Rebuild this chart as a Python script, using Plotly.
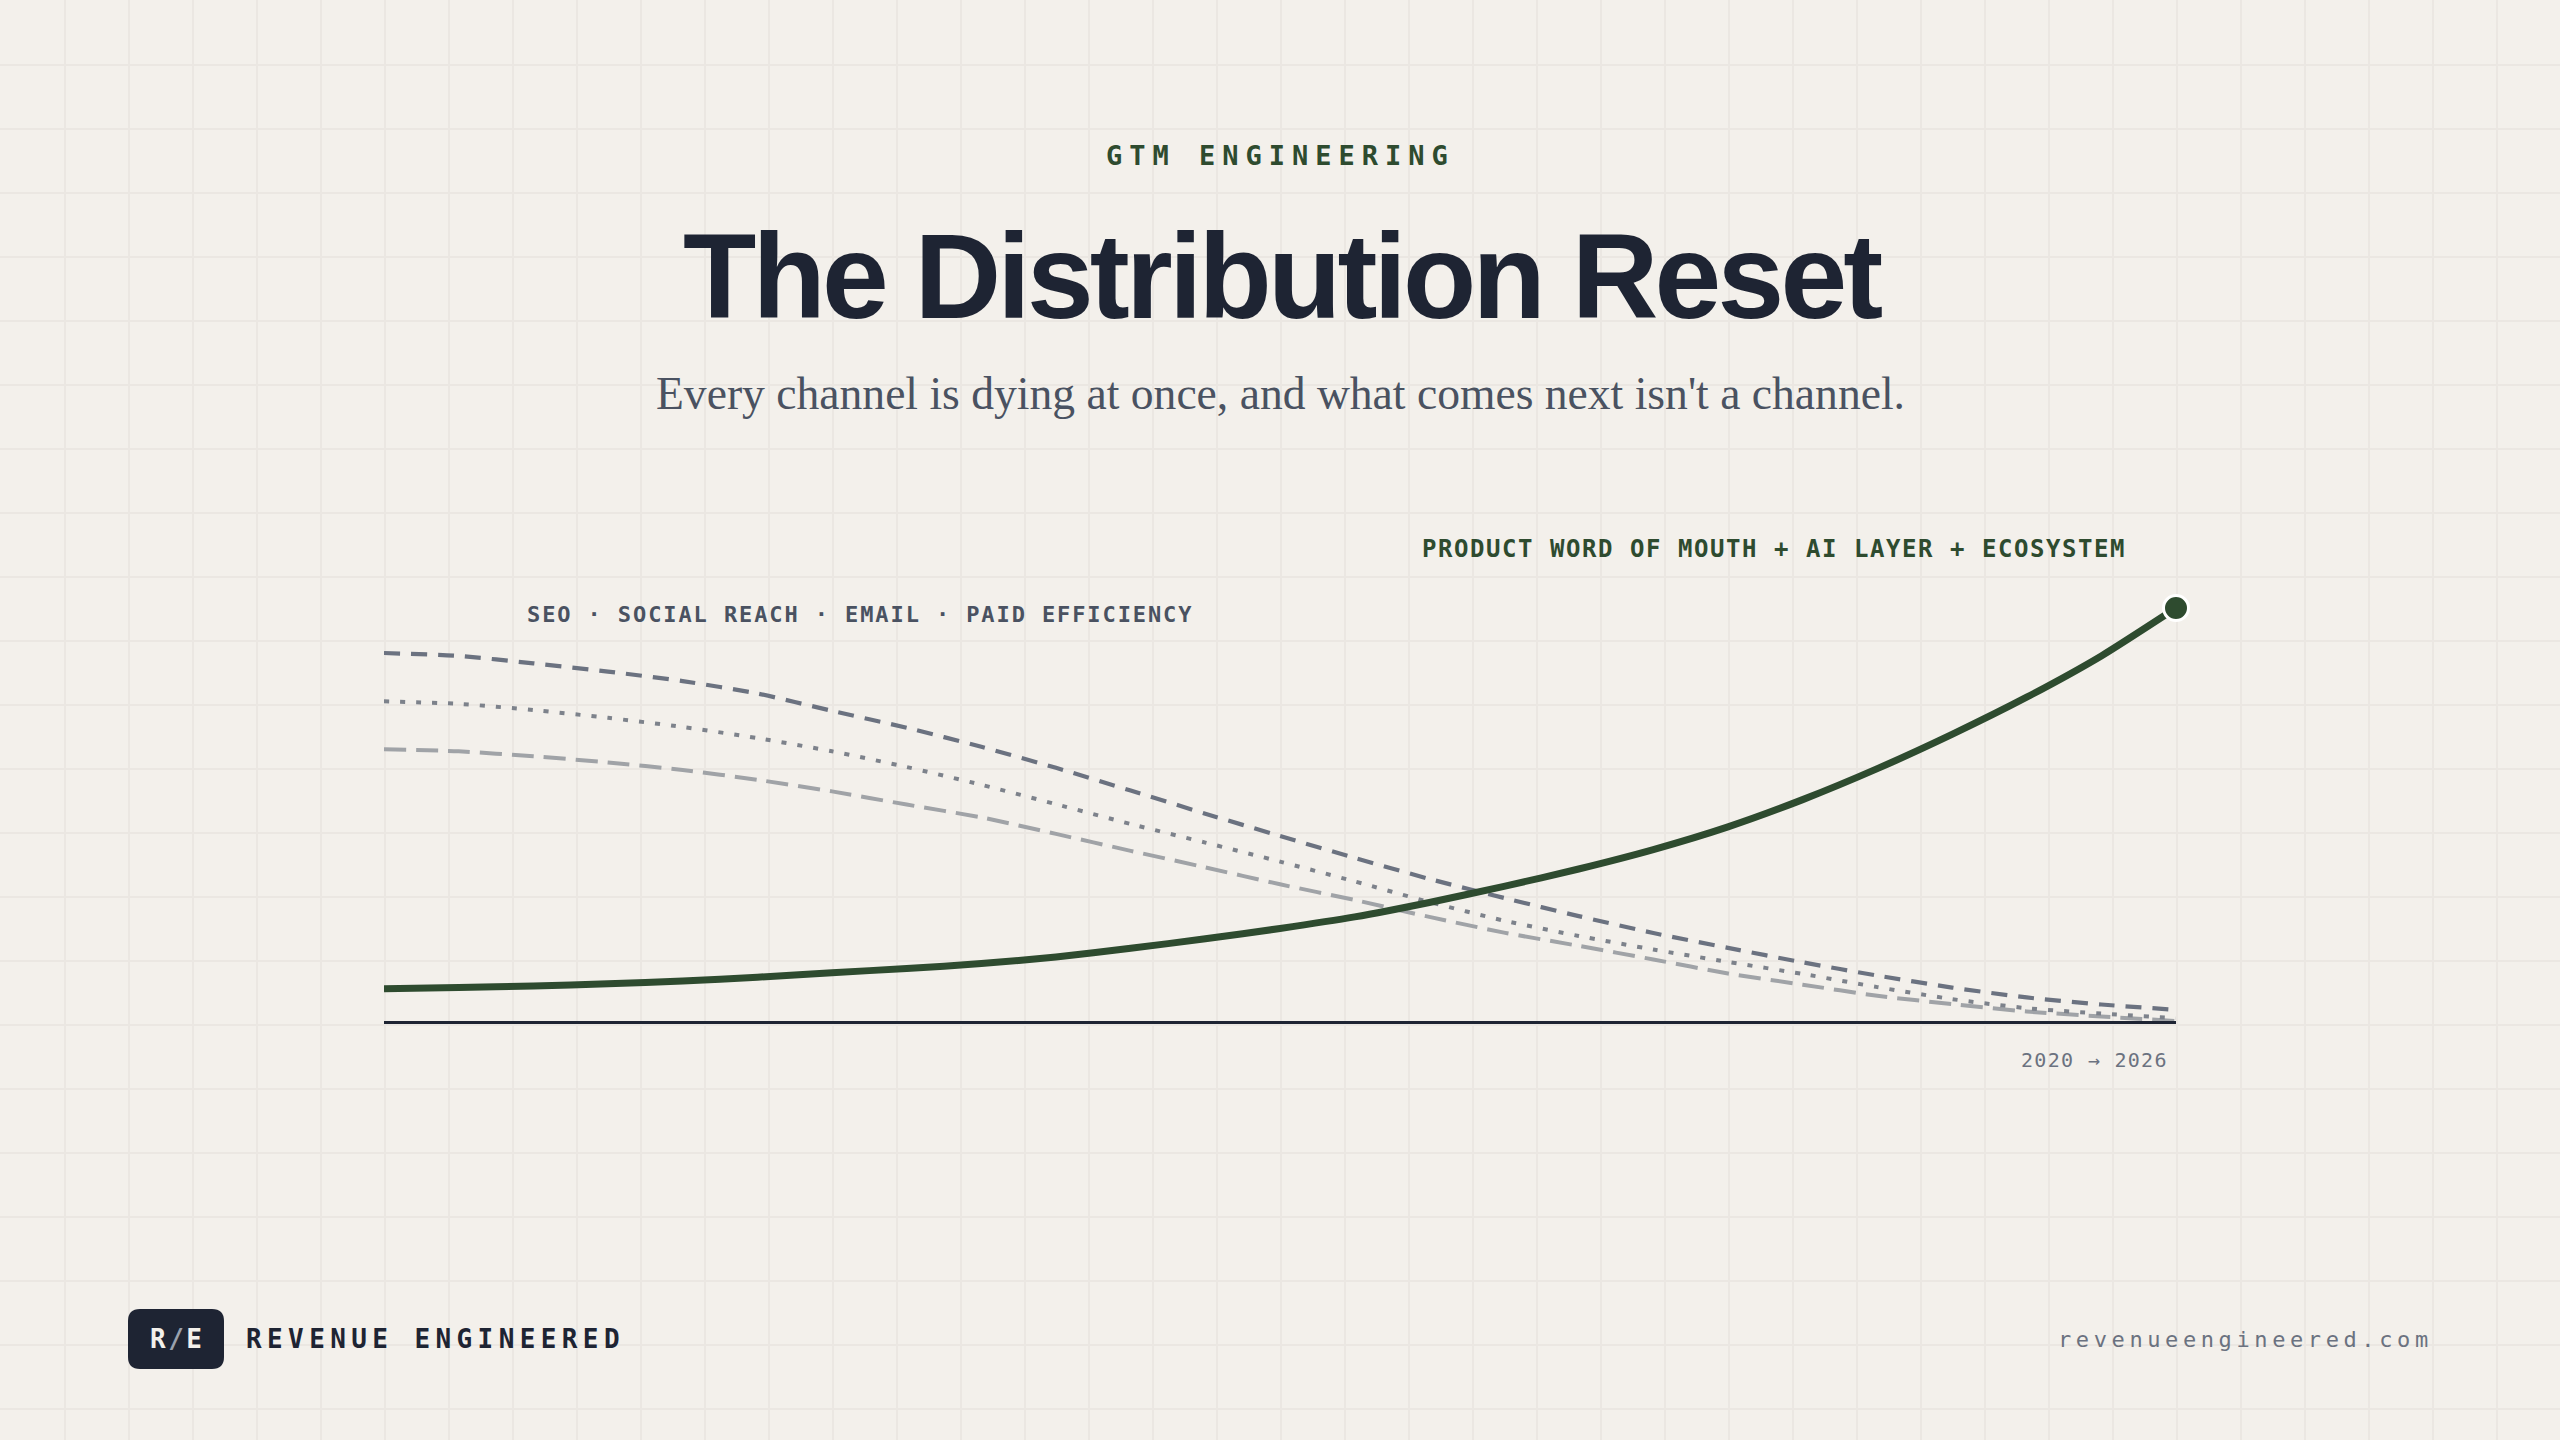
import plotly.graph_objects as go

W, H = 2560, 1440

# ---------------- data ----------------
years = [2020.0, 2020.25, 2020.5, 2020.75, 2021.0, 2021.25, 2021.5, 2021.75,
         2022.0, 2022.25, 2022.5, 2022.75, 2023.0, 2023.25, 2023.5, 2023.75,
         2024.0, 2024.25, 2024.5, 2024.75, 2025.0, 2025.25, 2025.5, 2025.75, 2026.0]

# rising: product word of mouth + AI layer + ecosystem (index, 2026 = 100)
new_distribution = [7.8, 8.1, 8.5, 9.0, 9.7, 10.6, 11.7, 12.7, 13.9, 15.5,
                    17.6, 19.9, 22.4, 25.2, 28.7, 32.6, 36.8, 41.5, 47.0, 53.6,
                    61.1, 69.4, 78.4, 88.4, 100.0]

# declining legacy channels
channel_dark = [89.1, 88.4, 86.6, 84.6, 82.3, 79.3, 75.1, 71.0, 66.4, 61.3,
                55.8, 50.2, 44.8, 39.5, 34.4, 29.8, 25.4, 21.3, 17.7, 14.2,
                11.0, 8.1, 5.7, 4.0, 2.7]
channel_dotted = [77.4, 76.8, 75.3, 73.4, 71.2, 68.5, 65.3, 61.5, 57.2, 52.5,
                  47.7, 43.2, 38.6, 33.8, 28.8, 24.3, 20.6, 17.3, 14.3, 11.4,
                  8.2, 5.3, 3.1, 1.8, 0.7]
channel_light = [65.8, 65.3, 64.1, 62.6, 60.8, 58.4, 55.6, 52.4, 49.3, 45.3,
                 41.2, 37.2, 33.1, 29.3, 25.2, 21.4, 18.2, 14.9, 11.5, 8.8,
                 6.1, 4.1, 2.3, 1.1, 0.0]

eyebrow = "GTM ENGINEERING"
title = "The Distribution Reset"
subtitle = "Every channel is dying at once, and what comes next isn't a channel."
label_rising = "PRODUCT WORD OF MOUTH + AI LAYER + ECOSYSTEM"
label_declining = "SEO · SOCIAL REACH · EMAIL · PAID EFFICIENCY"
range_label = "2020 → 2026"
brand = "REVENUE ENGINEERED"
url = "revenueengineered.com"

# ---------------- style ----------------
BG = "#f3f0eb"
GRID = "#ebe7e2"
NAVY = "#1e2433"
GREEN = "#2e4b2f"
SLATE = "#4a5261"
GRAY_DARK = "#6b7280"
GRAY_DOT = "#7d828b"
GRAY_LIGHT = "#a0a3a7"
MUTED = "#6b7280"
MONO = "DejaVu Sans Mono"

PLOT_L, PLOT_R, PLOT_T, PLOT_B = 384, 2176, 600, 1021
PX_PER_UNIT = 4.13

fig = go.Figure()

# holder trace for the background grid axes (pixel space)
fig.add_trace(go.Scatter(x=[None], y=[None], xaxis="x", yaxis="y",
                         showlegend=False, hoverinfo="skip"))

fig.add_trace(go.Scatter(x=years, y=channel_light, xaxis="x2", yaxis="y2", mode="lines",
                         line=dict(color=GRAY_LIGHT, width=4, dash="22px,10px", shape="spline", smoothing=0.6),
                         showlegend=False, hoverinfo="skip"))
fig.add_trace(go.Scatter(x=years, y=channel_dotted, xaxis="x2", yaxis="y2", mode="lines",
                         line=dict(color=GRAY_DOT, width=4, dash="5px,11px", shape="spline", smoothing=0.6),
                         showlegend=False, hoverinfo="skip"))
fig.add_trace(go.Scatter(x=years, y=channel_dark, xaxis="x2", yaxis="y2", mode="lines",
                         line=dict(color=GRAY_DARK, width=4.2, dash="16px,11px", shape="spline", smoothing=0.6),
                         showlegend=False, hoverinfo="skip"))
fig.add_trace(go.Scatter(x=years, y=new_distribution, xaxis="x2", yaxis="y2", mode="lines",
                         line=dict(color=GREEN, width=7, shape="spline", smoothing=0.6),
                         showlegend=False, hoverinfo="skip"))
fig.add_trace(go.Scatter(x=[years[-1]], y=[new_distribution[-1]], xaxis="x2", yaxis="y2", mode="markers",
                         marker=dict(color=GREEN, size=25, line=dict(color="#ffffff", width=3)),
                         cliponaxis=False, showlegend=False, hoverinfo="skip"))


def ls(text, spacing):
    return f'<span style="letter-spacing:{spacing}px">{text}</span>'


annotations = [
    dict(x=1280, y=155, text="<b>" + ls(eyebrow, 7) + "</b>", xanchor="center", yanchor="middle",
         font=dict(family=MONO, size=27, color=GREEN)),
    dict(x=1282, y=276, text="<b>" + ls(title, -3.8) + "</b>", xanchor="center", yanchor="middle",
         font=dict(family="Liberation Sans", size=120, color=NAVY)),
    dict(x=1280, y=393, text=subtitle, xanchor="center", yanchor="middle",
         font=dict(family="Liberation Serif", size=45.6, color=SLATE)),
    dict(x=1422, y=549, text="<b>" + ls(label_rising, 1.55) + "</b>", xanchor="left", yanchor="middle",
         font=dict(family=MONO, size=24, color=GREEN)),
    dict(x=527, y=614, text="<b>" + ls(label_declining, 1.9) + "</b>", xanchor="left", yanchor="middle",
         font=dict(family=MONO, size=22, color=SLATE)),
    dict(x=2168, y=1060, text=ls(range_label, 1.3), xanchor="right", yanchor="middle",
         font=dict(family=MONO, size=20, color=MUTED)),
    dict(x=177, y=1339, text='<b>' + ls('R<span style="color:#9aa1ad">/</span>E', 2.5) + '</b>',
         xanchor="center", yanchor="middle", font=dict(family=MONO, size=26, color="#f3f0eb")),
    dict(x=246, y=1339, text="<b>" + ls(brand, 5.4) + "</b>", xanchor="left", yanchor="middle",
         font=dict(family=MONO, size=26, color=NAVY)),
    dict(x=2433, y=1339, text=ls(url, 4.6), xanchor="right", yanchor="middle",
         font=dict(family=MONO, size=22, color=MUTED)),
]
for a in annotations:
    a.update(xref="x", yref="y", showarrow=False, borderpad=0, borderwidth=0)

logo_path = ("M140,1309 L212,1309 Q224,1309 224,1321 L224,1357 Q224,1369 212,1369 "
             "L140,1369 Q128,1369 128,1357 L128,1321 Q128,1309 140,1309 Z")

fig.update_layout(
    width=W, height=H,
    margin=dict(l=0, r=0, t=0, b=0, pad=0),
    paper_bgcolor=BG, plot_bgcolor="rgba(0,0,0,0)",
    showlegend=False,
    xaxis=dict(domain=[0, 1], range=[0, W], tick0=1, dtick=64, showgrid=True, gridcolor=GRID,
               gridwidth=2, showticklabels=False, ticks="", zeroline=False, showline=False,
               fixedrange=True),
    yaxis=dict(domain=[0, 1], range=[H, 0], tick0=1, dtick=64, showgrid=True, gridcolor=GRID,
               gridwidth=2, showticklabels=False, ticks="", zeroline=False, showline=False,
               fixedrange=True),
    xaxis2=dict(domain=[PLOT_L / W, PLOT_R / W], range=[years[0], years[-1]], anchor="y2",
                showgrid=False, showticklabels=False, ticks="", zeroline=False,
                showline=True, linecolor=NAVY, linewidth=3, fixedrange=True),
    yaxis2=dict(domain=[(H - PLOT_B) / H, (H - PLOT_T) / H],
                range=[0, (PLOT_B - PLOT_T) / PX_PER_UNIT], anchor="x2",
                showgrid=False, showticklabels=False, ticks="", zeroline=False, showline=False,
                fixedrange=True),
    annotations=annotations,
    shapes=[dict(type="path", path=logo_path, xref="x", yref="y",
                 fillcolor=NAVY, line=dict(width=0), layer="above")],
)

fig.write_html("out.html", config={"displayModeBar": False},
               post_script="document.body.style.margin='0';document.body.style.overflow='hidden';")
